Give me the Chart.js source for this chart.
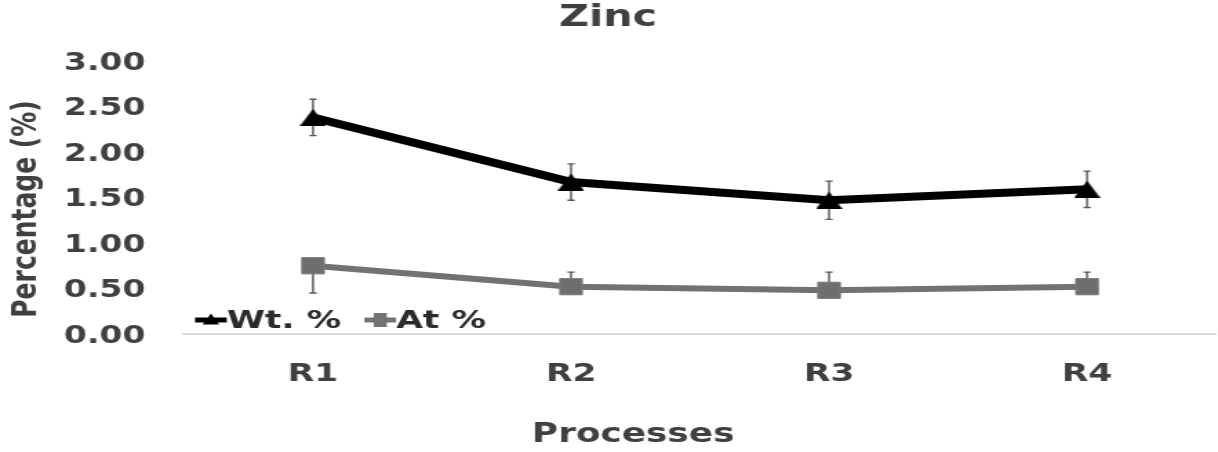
<!DOCTYPE html>
<html>
<head>
<meta charset="utf-8">
<title>Zinc</title>
<script src="https://cdn.jsdelivr.net/npm/chart.js@4.4.1/dist/chart.umd.min.js"></script>
<style>
  html, body { margin: 0; padding: 0; background: #ffffff; overflow: hidden; }
  /* the chart is laid out narrow and widened horizontally */
  #wrap {
    position: absolute; left: 0; top: 0;
    width: 883px; height: 452px;
    transform: scaleX(1.37939); transform-origin: 0 0;
  }
</style>
</head>
<body>
<div id="wrap"><canvas id="chart"></canvas></div>
<script>
// ---- data ----
const categories = ['R1', 'R2', 'R3', 'R4'];
const seriesNames = ['Wt. %', 'At %'];

const wtValues    = [2.38, 1.67, 1.47, 1.59];
const wtErrPlus   = [0.20, 0.20, 0.21, 0.20];
const wtErrMinus  = [0.20, 0.20, 0.21, 0.20];

const atValues    = [0.75, 0.52, 0.48, 0.52];
const atErrPlus   = [0.05, 0.16, 0.20, 0.16];
const atErrMinus  = [0.30, 0.05, 0.05, 0.05];

const yTicks = [0, 0.5, 1, 1.5, 2, 2.5, 3];

// ---- style ----
const FONT = 'DejaVu Sans';
const TEXT = '#404040';
const WT_COLOR = '#000000';
const AT_COLOR = '#727272';
const ERR_COLOR = '#555555';

Chart.defaults.font.family = FONT;
Chart.defaults.font.weight = 'bold';
Chart.defaults.color = TEXT;

// triangle marker whose box is centred on the value
function triangleImage(w, h, color) {
  const c = document.createElement('canvas');
  c.width = w; c.height = h;
  const g = c.getContext('2d');
  g.fillStyle = color;
  g.beginPath();
  g.moveTo(w / 2, 0);
  g.lineTo(w, h);
  g.lineTo(0, h);
  g.closePath();
  g.fill();
  return c;
}
const triMarker = triangleImage(19, 17, WT_COLOR);

// wrap one of a scale's draw steps so it is drawn shifted by (dx, dy)
function shiftDraw(scale, method, dx, dy) {
  const flag = '_shifted_' + method;
  if (scale[flag]) return;
  const draw = scale[method];
  scale[method] = function (...args) {
    this.ctx.save();
    this.ctx.translate(dx, dy);
    draw.apply(this, args);
    this.ctx.restore();
  };
  scale[flag] = true;
}

// vertical error bars with small caps, drawn under the markers
const errorBars = {
  id: 'errorBars',
  beforeDatasetsDraw(chart) {
    const { ctx, scales: { y } } = chart;
    ctx.save();
    ctx.strokeStyle = ERR_COLOR;
    ctx.lineWidth = 1.4;
    const cap = 2.6;
    chart.data.datasets.forEach((ds, i) => {
      const meta = chart.getDatasetMeta(i);
      meta.data.forEach((pt, j) => {
        const v = ds.data[j];
        const top = y.getPixelForValue(v + ds.errPlus[j]);
        const bot = y.getPixelForValue(v - ds.errMinus[j]);
        ctx.beginPath();
        ctx.moveTo(pt.x, top); ctx.lineTo(pt.x, bot);
        ctx.moveTo(pt.x - cap, top); ctx.lineTo(pt.x + cap, top);
        ctx.moveTo(pt.x - cap, bot); ctx.lineTo(pt.x + cap, bot);
        ctx.stroke();
      });
    });
    ctx.restore();
  }
};

// legend sitting inside the plot, at its lower left corner
const innerLegend = {
  id: 'innerLegend',
  afterDatasetsDraw(chart) {
    const { ctx, chartArea } = chart;
    const yMid = chartArea.bottom - 14;
    let x = chartArea.left + 8;
    const sample = 23;
    ctx.save();
    ctx.font = 'bold 25px "' + FONT + '"';
    ctx.textBaseline = 'middle';
    ctx.textAlign = 'left';
    chart.data.datasets.forEach((ds, i) => {
      ctx.strokeStyle = ds.borderColor;
      ctx.lineWidth = 5;
      ctx.beginPath();
      ctx.moveTo(x, yMid); ctx.lineTo(x + sample, yMid);
      ctx.stroke();
      const cx = x + sample / 2;
      ctx.fillStyle = ds.borderColor;
      if (i === 0) {
        ctx.beginPath();
        ctx.moveTo(cx, yMid - 6.5);
        ctx.lineTo(cx + 6, yMid + 4.5);
        ctx.lineTo(cx - 6, yMid + 4.5);
        ctx.closePath();
        ctx.fill();
      } else {
        ctx.fillRect(cx - 4.7, yMid - 7, 9.4, 14);
      }
      x += sample;
      ctx.fillStyle = '#2b2b2b';
      ctx.fillText(ds.label, x, yMid + 1);
      x += ctx.measureText(ds.label).width + 17;
    });
    ctx.restore();
  }
};

new Chart(document.getElementById('chart'), {
  type: 'line',
  data: {
    labels: categories,
    datasets: [
      {
        label: seriesNames[0],
        data: wtValues,
        errPlus: wtErrPlus,
        errMinus: wtErrMinus,
        borderColor: WT_COLOR,
        backgroundColor: WT_COLOR,
        borderWidth: 8,
        tension: 0,
        pointStyle: triMarker,
        pointRadius: 10,
        pointHoverRadius: 10
      },
      {
        label: seriesNames[1],
        data: atValues,
        errPlus: atErrPlus,
        errMinus: atErrMinus,
        borderColor: AT_COLOR,
        backgroundColor: '#6e6e6e',
        pointBorderColor: '#7c7c7c',
        pointBorderWidth: 1,
        borderWidth: 6,
        tension: 0,
        pointStyle: 'rect',
        pointRadius: 11.5,
        pointHoverRadius: 11.5
      }
    ]
  },
  options: {
    responsive: true,
    maintainAspectRatio: false,
    animation: false,
    events: [],
    layout: { autoPadding: false, padding: { left: 0, right: 1.4, top: 0, bottom: 0 } },
    plugins: {
      legend: { display: false },
      tooltip: { enabled: false },
      title: {
        display: true,
        text: 'Zinc',
        color: TEXT,
        font: { size: 30, weight: 'bold', lineHeight: 1 },
        padding: { top: 3, bottom: 28 }
      }
    },
    scales: {
      x: {
        type: 'category',
        offset: true,
        grid: { display: false, drawTicks: false },
        border: { display: true, color: '#d9d9d9', width: 2 },
        ticks: {
          color: TEXT,
          font: { size: 25, weight: 'bold' },
          padding: 25,
          maxRotation: 0
        },
        title: {
          display: true,
          text: 'Processes',
          color: TEXT,
          font: { size: 26, weight: 'bold', lineHeight: 1.2 },
          padding: { top: 0, bottom: 1 }
        },
        afterFit(scale) {
          scale.height = 118;
          // axis title sits left of the plot centre
          shiftDraw(scale, 'drawTitle', -48.5, 0);
        }
      },
      y: {
        min: 0,
        max: 3,
        grid: { display: false, drawTicks: false },
        border: { display: false },
        afterBuildTicks(scale) {
          scale.ticks = yTicks.map(v => ({ value: v }));
        },
        ticks: {
          color: TEXT,
          font: { size: 24, weight: 'bold' },
          padding: 28,
          callback: v => Number(v).toFixed(2)
        },
        title: {
          display: true,
          text: 'Percentage (%)',
          color: TEXT,
          font: { size: 25, weight: 'bold', lineHeight: 1.2 },
          padding: { top: 4, bottom: 0 }
        },
        afterFit(scale) {
          scale.width = 133.4;
          // digits centred on their values; axis title sits a little low
          shiftDraw(scale, 'drawLabels', 0, 2.5);
          shiftDraw(scale, 'drawTitle', 0, 11.5);
        }
      }
    }
  },
  plugins: [errorBars, innerLegend]
});
</script>
</body>
</html>
